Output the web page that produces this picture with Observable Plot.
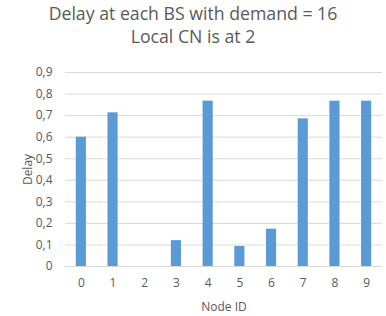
<!DOCTYPE html>
<html>
<head>
<meta charset="utf-8">
<script src="https://cdn.jsdelivr.net/npm/d3@7"></script>
<script src="https://cdn.jsdelivr.net/npm/@observablehq/plot@0.6"></script>
<style>
  html, body { margin: 0; padding: 0; background: #fff; }
  #title { width: 386px; height: 50px; text-align: center; font-family: "Open Sans", sans-serif; font-size: 17.7px; color: #595959; line-height: 23px; padding-top: 2px; box-sizing: border-box; }
  svg { display: block; }
</style>
</head>
<body>
<div id="title">Delay at each BS with demand = 16<br>Local CN is at 2</div>
<div id="chart"></div>
<script>
const nodes = ["0","1","2","3","4","5","6","7","8","9"];
const delays = [0.60, 0.713, 0, 0.12, 0.767, 0.093, 0.173, 0.685, 0.767, 0.767];
const yTicks = [0, 0.1, 0.2, 0.3, 0.4, 0.5, 0.6, 0.7, 0.8, 0.9];

const data = nodes.map((n, i) => ({node: n, delay: delays[i]}));
const fmt = d => d === 0 ? "0" : d.toFixed(1).replace(".", ",");

const chart = Plot.plot({
  width: 386,
  height: 266,
  marginTop: 22,
  marginBottom: 50,
  marginLeft: 65,
  marginRight: 4,
  style: {fontFamily: "Open Sans, sans-serif", fontSize: "12px", color: "#595959", background: "#fff"},
  x: {domain: nodes, paddingInner: 0.68, paddingOuter: 0.34, round: false, label: null},
  y: {domain: [0, 0.9], label: null},
  marks: [
    Plot.gridY(yTicks, {stroke: "#d9d9d9", strokeOpacity: 1, strokeWidth: 1}),
    Plot.barY(data, {x: "node", y: "delay", fill: "#5b9bd5"}),
    Plot.axisY(yTicks, {tickSize: 0, tickPadding: 13, tickFormat: fmt, label: "Delay", labelAnchor: "center", labelArrow: "none", labelOffset: 42, fill: "#595959", fontSize: 12}),
    Plot.axisX({tickSize: 0, tickPadding: 12, label: "Node ID", labelAnchor: "center", labelArrow: "none", labelOffset: 44, fill: "#595959", fontSize: 12})
  ]
});
document.getElementById("chart").appendChild(chart);
</script>
</body>
</html>
